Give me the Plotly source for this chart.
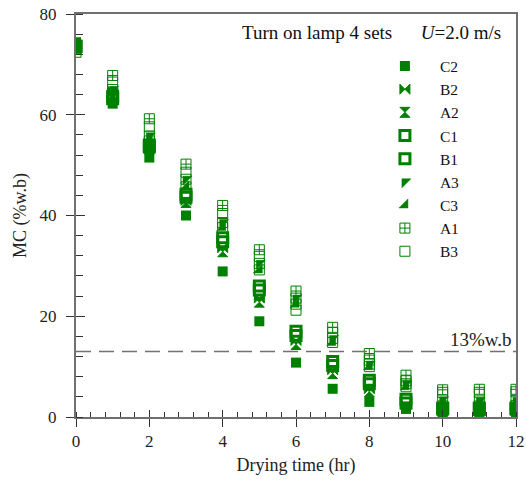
import plotly.graph_objects as go

time_hr = [0, 1, 2, 3, 4, 5, 6, 7, 8, 9, 10, 11, 12]

series_names = ["C2", "B2", "A2", "C1", "B1", "A3", "C3", "A1", "B3"]

C2 = [74.4, 62.2, 51.5, 40.0, 28.9, 19.0, 10.8, 5.6, 3.0, 1.6, 1.0, 1.0, 1.0]
B2 = [73.8, 64.6, 53.4, 43.0, 33.6, 23.6, 15.2, 9.4, 5.6, 2.4, 1.3, 1.3, 1.3]
A2 = [73.8, 64.0, 53.2, 42.6, 32.8, 22.8, 14.4, 8.6, 5.0, 2.0, 1.2, 1.2, 1.2]
C1 = [73.6, 63.6, 54.0, 44.2, 35.6, 26.0, 17.0, 11.0, 7.3, 3.5, 1.8, 1.8, 1.8]
B1 = [73.6, 63.2, 53.6, 43.6, 34.8, 25.2, 16.2, 10.2, 6.6, 2.8, 1.6, 1.5, 1.6]
A3 = [73.2, 65.0, 55.8, 47.2, 38.6, 30.5, 23.6, 15.6, 10.5, 6.6, 3.4, 3.2, 3.3]
C3 = [73.3, 64.2, 54.8, 45.7, 37.6, 29.2, 22.4, 14.8, 10.0, 6.0, 2.2, 2.2, 2.3]
A1 = [73.0, 67.8, 59.2, 50.2, 42.0, 33.2, 25.0, 17.8, 12.6, 8.3, 5.4, 5.5, 5.5]
B3 = [72.4, 66.5, 57.6, 48.6, 40.4, 31.9, 21.2, 16.8, 11.3, 7.2, 4.9, 4.9, 5.0]

values = {"C2": C2, "B2": B2, "A2": A2, "C1": C1, "B1": B1,
          "A3": A3, "C3": C3, "A1": A1, "B3": B3}

threshold = 13
GREEN = "#008000"
FONT = "Liberation Serif"

styles = {
    "C2": dict(symbol="square", size=10, color=GREEN, line=dict(width=0)),
    "B2": dict(symbol="bowtie", size=10, color=GREEN, line=dict(width=1, color=GREEN)),
    "A2": dict(symbol="hourglass", size=10, color=GREEN, line=dict(width=1, color=GREEN)),
    "C1": dict(symbol="square-open", size=10, color=GREEN, line=dict(width=3, color=GREEN)),
    "B1": dict(symbol="square-open", size=10, color=GREEN, line=dict(width=3, color=GREEN)),
    "A3": dict(symbol="triangle-nw", size=10, color=GREEN, line=dict(width=0.5, color=GREEN)),
    "C3": dict(symbol="triangle-se", size=10, color=GREEN, line=dict(width=0.5, color=GREEN)),
    "A1": dict(symbol="square-cross-open", size=10, color=GREEN, line=dict(width=1, color=GREEN)),
    "B3": dict(symbol="square-open", size=10, color=GREEN, line=dict(width=1, color=GREEN)),
}

fig = go.Figure()

draw_order = ["C2", "A2", "B2", "B1", "C1", "C3", "A3", "B3", "A1"]
for name in draw_order:
    fig.add_trace(go.Scatter(
        x=time_hr, y=values[name], mode="markers", name=name,
        marker=styles[name], legendgroup=name,
        legendrank=series_names.index(name) + 1,
    ))
    if name in ("A3", "C3"):
        fig.add_trace(go.Scatter(
            x=time_hr, y=values[name], mode="markers", name=name,
            marker=dict(symbol="square-open", size=10, color=GREEN, line=dict(width=1, color=GREEN)),
            legendgroup=name, showlegend=False,
        ))

fig.add_shape(type="line", xref="x", yref="y", x0=0, x1=12, y0=threshold, y1=threshold,
              line=dict(color="#707070", width=1.5, dash="15px,8px"))

fig.add_annotation(x=12, y=threshold, xref="x", yref="y", text="13%w.b",
                   showarrow=False, xanchor="right", yanchor="bottom", xshift=-2, yshift=0,
                   font=dict(family=FONT, size=19, color="#222"))

fig.add_annotation(x=0.97, y=0.955, xref="paper", yref="paper",
                   text="Turn on lamp 4 sets&nbsp;&nbsp;&nbsp;&nbsp;&nbsp;&nbsp;<i>U</i>=2.0 m/s",
                   showarrow=False, xanchor="right", yanchor="middle",
                   font=dict(family=FONT, size=19, color="#111"))

axis_common = dict(showgrid=False, zeroline=False, linecolor="#707070", linewidth=2,
                   tickcolor="#333", tickwidth=1.2, mirror=True, automargin=False,
                   tickfont=dict(family=FONT, size=17, color="#222"))

fig.update_layout(
    width=526, height=480,
    margin=dict(l=76, r=10, t=14, b=63),
    paper_bgcolor="white", plot_bgcolor="white",
    font=dict(family=FONT, color="#222"),
    xaxis=dict(range=[0, 12], dtick=2, tick0=0, ticks="outside", ticklen=8,
               minor=dict(dtick=0.4, ticks="inside", ticklen=5, tickcolor="#333"),
               title=dict(text="Drying time (hr)", font=dict(family=FONT, size=18), standoff=8),
               **axis_common),
    yaxis=dict(range=[0, 80], dtick=20, tick0=0, ticks="outside", ticklen=8,
               minor=dict(dtick=4, ticks="inside", ticklen=7, tickcolor="#333"),
               ticklabelstandoff=6,
               title=dict(text="MC (%w.b)", font=dict(family=FONT, size=18), standoff=8),
               **axis_common),
    xaxis2=dict(range=[0, 12], dtick=2, tick0=0, ticks="inside", ticklen=7, overlaying="x",
                showticklabels=False, showline=False, showgrid=False, zeroline=False,
                tickcolor="#333", tickwidth=1.2, side="bottom", automargin=False),
    yaxis2=dict(range=[0, 80], dtick=20, tick0=0, ticks="inside", ticklen=9, overlaying="y",
                showticklabels=False, showline=False, showgrid=False, zeroline=False,
                tickcolor="#333", tickwidth=1.2, side="left", automargin=False),
    legend=dict(x=0.668, y=0.912, xanchor="left", yanchor="top", bgcolor="rgba(0,0,0,0)",
                font=dict(family=FONT, size=15.5, color="#111"), tracegroupgap=0,
                itemwidth=60),
    showlegend=True,
)

fig.add_trace(go.Scatter(x=[None], y=[None], xaxis="x2", yaxis="y2", showlegend=False,
                         hoverinfo="skip"))

fig.write_html("out.html")
